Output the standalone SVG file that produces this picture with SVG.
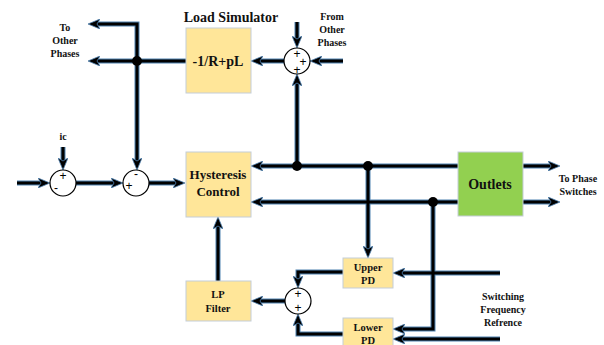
<svg xmlns="http://www.w3.org/2000/svg" xmlns:xlink="http://www.w3.org/1999/xlink" width="604" height="345" viewBox="0 0 604 345">
<style>
.box{fill:#FFE699;stroke:#c4cdd8;stroke-width:1}
.green{fill:#92D050;stroke:#c4cdd8;stroke-width:1}
.t{font-family:"Liberation Serif",serif;font-weight:bold;fill:#111;text-anchor:middle}
.sum{fill:#fff;stroke:#000;stroke-width:1.2}
.sg{font-family:"Liberation Sans",sans-serif;font-size:12px;fill:#000;text-anchor:middle}
.under{fill:none;stroke:#4f82b0;stroke-width:5}
.over{fill:none;stroke:#000;stroke-width:3;marker-end:url(#ah)}
.dot{fill:#000}
</style>
<defs>
<marker id="ah" viewBox="0 0 12 10" markerWidth="12" markerHeight="10" markerUnits="userSpaceOnUse" refX="4" refY="5" orient="auto">
<path d="M0,0 L12,5 L0,10 L3,5 z" fill="#000" stroke="#4f82b0" stroke-width="0.8"/>
</marker>
<path id="w1" d="M251,61 H96"/>
<path id="w2" d="M137,61 V24 H96"/>
<path id="w3" d="M137,61 V162"/>
<path id="w4" d="M297,22 V40"/>
<path id="w5" d="M343,61 H318"/>
<path id="w6" d="M297,166 V82"/>
<path id="w7" d="M284,61 H259"/>
<path id="w8" d="M17,183 H42"/>
<path id="w9" d="M63,147 V162"/>
<path id="w10" d="M76,183 H115"/>
<path id="w11" d="M149,183 H177"/>
<path id="w12" d="M458,166 H259"/>
<path id="w13" d="M458,202 H259"/>
<path id="w14" d="M523,166 H552"/>
<path id="w15" d="M523,202 H552"/>
<path id="w16" d="M368,166 V250"/>
<path id="w17" d="M433,202 V329 H401"/>
<path id="w18" d="M500,273 H401"/>
<path id="w19" d="M500,339 H401"/>
<path id="w20" d="M343,272 H298 V280"/>
<path id="w21" d="M343,334 H298 V322"/>
<path id="w22" d="M285,301 H259"/>
<path id="w23" d="M218,281 V225"/>
</defs>

<g id="connectors">
<g class="under-layer">
<use xlink:href="#w1" class="under"/><use xlink:href="#w2" class="under"/><use xlink:href="#w3" class="under"/>
<use xlink:href="#w4" class="under"/><use xlink:href="#w5" class="under"/><use xlink:href="#w6" class="under"/>
<use xlink:href="#w7" class="under"/><use xlink:href="#w8" class="under"/><use xlink:href="#w9" class="under"/>
<use xlink:href="#w10" class="under"/><use xlink:href="#w11" class="under"/><use xlink:href="#w12" class="under"/>
<use xlink:href="#w13" class="under"/><use xlink:href="#w14" class="under"/><use xlink:href="#w15" class="under"/>
<use xlink:href="#w16" class="under"/><use xlink:href="#w17" class="under"/><use xlink:href="#w18" class="under"/>
<use xlink:href="#w19" class="under"/><use xlink:href="#w20" class="under"/><use xlink:href="#w21" class="under"/>
<use xlink:href="#w22" class="under"/><use xlink:href="#w23" class="under"/>
</g>
<g class="over-layer">
<use xlink:href="#w1" class="over"/><use xlink:href="#w2" class="over"/><use xlink:href="#w3" class="over"/>
<use xlink:href="#w4" class="over"/><use xlink:href="#w5" class="over"/><use xlink:href="#w6" class="over"/>
<use xlink:href="#w7" class="over"/><use xlink:href="#w8" class="over"/><use xlink:href="#w9" class="over"/>
<use xlink:href="#w10" class="over"/><use xlink:href="#w11" class="over"/><use xlink:href="#w12" class="over"/>
<use xlink:href="#w13" class="over"/><use xlink:href="#w14" class="over"/><use xlink:href="#w15" class="over"/>
<use xlink:href="#w16" class="over"/><use xlink:href="#w17" class="over"/><use xlink:href="#w18" class="over"/>
<use xlink:href="#w19" class="over"/><use xlink:href="#w20" class="over"/><use xlink:href="#w21" class="over"/>
<use xlink:href="#w22" class="over"/><use xlink:href="#w23" class="over"/>
</g>
<circle class="dot" cx="137" cy="61" r="5"/>
<circle class="dot" cx="297" cy="166" r="5"/>
<circle class="dot" cx="368" cy="166" r="5"/>
<circle class="dot" cx="433" cy="202" r="5"/>
</g>

<g id="load-simulator">
<text class="t" x="231" y="22" font-size="14">Load Simulator</text>
<rect class="box" x="186" y="28" width="65" height="65"/>
<text class="t" x="218" y="66" font-size="14">-1/R+pL</text>
</g>

<g id="sum-top">
<circle class="sum" cx="297" cy="61" r="13"/>
<text class="sg" x="297" y="58">+</text>
<text class="sg" x="303" y="66">+</text>
<text class="sg" x="297" y="74">+</text>
</g>

<g id="sum-1">
<circle class="sum" cx="63" cy="183" r="13"/>
<text class="sg" x="63" y="180">+</text>
<text class="sg" x="56" y="192">-</text>
</g>

<g id="sum-2">
<circle class="sum" cx="136" cy="183" r="13"/>
<text class="sg" x="136" y="178">-</text>
<text class="sg" x="129" y="190">+</text>
</g>

<g id="hysteresis">
<rect class="box" x="186" y="152" width="65" height="65"/>
<text class="t" x="218" y="179" font-size="13">Hysteresis</text>
<text class="t" x="218" y="196" font-size="13">Control</text>
</g>

<g id="outlets">
<rect class="green" x="458" y="152" width="65" height="64"/>
<text class="t" x="490" y="189" font-size="14">Outlets</text>
</g>

<g id="upper-pd">
<rect class="box" x="343" y="258" width="50" height="30"/>
<text class="t" x="368" y="271" font-size="10.5">Upper</text>
<text class="t" x="368" y="284" font-size="10.5">PD</text>
</g>

<g id="lower-pd">
<rect class="box" x="343" y="318" width="50" height="32"/>
<text class="t" x="368" y="331" font-size="10.5">Lower</text>
<text class="t" x="368" y="344" font-size="10.5">PD</text>
</g>

<g id="sum-bottom">
<circle class="sum" cx="298" cy="301" r="13"/>
<text class="sg" x="298" y="298">+</text>
<text class="sg" x="298" y="312">+</text>
</g>

<g id="lp-filter">
<rect class="box" x="186" y="281" width="65" height="40"/>
<text class="t" x="218" y="298" font-size="10.5">LP</text>
<text class="t" x="218" y="312" font-size="10.5">Filter</text>
</g>

<g id="labels">
<text class="t" font-size="10" x="65" y="31">To</text>
<text class="t" font-size="10" x="65" y="44">Other</text>
<text class="t" font-size="10" x="65" y="57">Phases</text>
<text class="t" font-size="10" x="332" y="20">From</text>
<text class="t" font-size="10" x="332" y="33">Other</text>
<text class="t" font-size="10" x="332" y="46">Phases</text>
<text class="t" font-size="10" x="63" y="140">ic</text>
<text class="t" font-size="10" x="578" y="182">To Phase</text>
<text class="t" font-size="10" x="578" y="195">Switches</text>
<text class="t" font-size="10" x="503" y="300">Switching</text>
<text class="t" font-size="10" x="503" y="313">Frequency</text>
<text class="t" font-size="10" x="503" y="326">Refrence</text>
</g>
</svg>
